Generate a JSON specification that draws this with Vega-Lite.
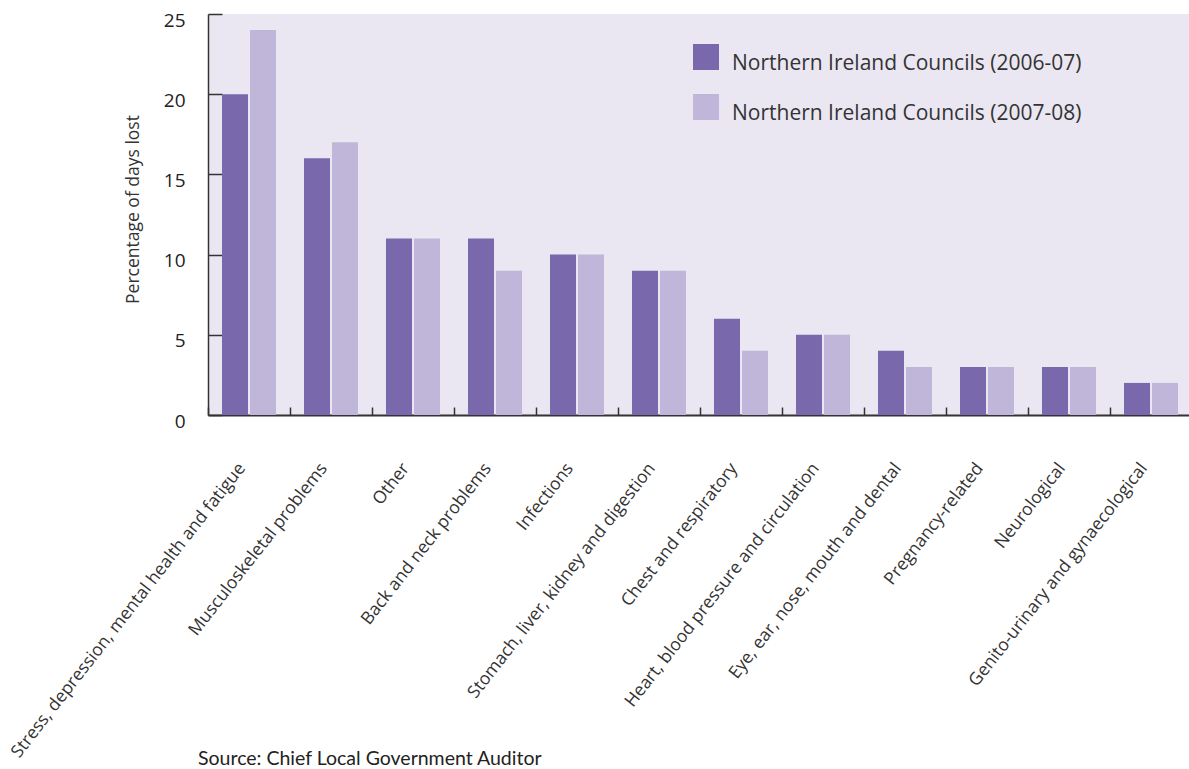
{
  "$schema": "https://vega.github.io/schema/vega-lite/v6.json",
  "autosize": {"type": "none"},
  "padding": {"left": 208, "top": 14, "right": 0, "bottom": 354},
  "width": 984,
  "height": 401,
  "background": "#ffffff",
  "title": {
    "text": "Source: Chief Local Government Auditor",
    "orient": "bottom",
    "anchor": "start",
    "frame": "group",
    "dx": -10,
    "offset": -10,
    "font": "Lato",
    "fontSize": 19.5,
    "fontWeight": "normal",
    "color": "#222222"
  },
  "data": {
    "values": [
      {"category": "Stress, depression, mental health and fatigue", "period": "Northern Ireland Councils (2006-07)", "value": 20},
      {"category": "Stress, depression, mental health and fatigue", "period": "Northern Ireland Councils (2007-08)", "value": 24},
      {"category": "Musculoskeletal problems", "period": "Northern Ireland Councils (2006-07)", "value": 16},
      {"category": "Musculoskeletal problems", "period": "Northern Ireland Councils (2007-08)", "value": 17},
      {"category": "Other", "period": "Northern Ireland Councils (2006-07)", "value": 11},
      {"category": "Other", "period": "Northern Ireland Councils (2007-08)", "value": 11},
      {"category": "Back and neck problems", "period": "Northern Ireland Councils (2006-07)", "value": 11},
      {"category": "Back and neck problems", "period": "Northern Ireland Councils (2007-08)", "value": 9},
      {"category": "Infections", "period": "Northern Ireland Councils (2006-07)", "value": 10},
      {"category": "Infections", "period": "Northern Ireland Councils (2007-08)", "value": 10},
      {"category": "Stomach, liver, kidney and digestion", "period": "Northern Ireland Councils (2006-07)", "value": 9},
      {"category": "Stomach, liver, kidney and digestion", "period": "Northern Ireland Councils (2007-08)", "value": 9},
      {"category": "Chest and respiratory", "period": "Northern Ireland Councils (2006-07)", "value": 6},
      {"category": "Chest and respiratory", "period": "Northern Ireland Councils (2007-08)", "value": 4},
      {"category": "Heart, blood pressure and circulation", "period": "Northern Ireland Councils (2006-07)", "value": 5},
      {"category": "Heart, blood pressure and circulation", "period": "Northern Ireland Councils (2007-08)", "value": 5},
      {"category": "Eye, ear, nose, mouth and dental", "period": "Northern Ireland Councils (2006-07)", "value": 4},
      {"category": "Eye, ear, nose, mouth and dental", "period": "Northern Ireland Councils (2007-08)", "value": 3},
      {"category": "Pregnancy-related", "period": "Northern Ireland Councils (2006-07)", "value": 3},
      {"category": "Pregnancy-related", "period": "Northern Ireland Councils (2007-08)", "value": 3},
      {"category": "Neurological", "period": "Northern Ireland Councils (2006-07)", "value": 3},
      {"category": "Neurological", "period": "Northern Ireland Councils (2007-08)", "value": 3},
      {"category": "Genito-urinary and gynaecological", "period": "Northern Ireland Councils (2006-07)", "value": 2},
      {"category": "Genito-urinary and gynaecological", "period": "Northern Ireland Councils (2007-08)", "value": 2}
    ]
  },
  "mark": {"type": "bar"},
  "encoding": {
    "x": {
      "field": "category",
      "type": "nominal",
      "sort": null,
      "scale": {"paddingInner": 0, "paddingOuter": 0},
      "axis": {
        "title": null,
        "labelAngle": -52,
        "labelAlign": "right",
        "labelBaseline": "middle",
        "labelFont": "Open Sans",
        "labelFontSize": 17.5,
        "labelColor": "#333333",
        "labelPadding": 58,
        "labelOffset": -7,
        "labelLimit": 450,
        "labelOverlap": false,
        "bandPosition": 0,
        "tickSize": -8,
        "tickColor": "#333333",
        "tickWidth": 1.5,
        "domainColor": "#333333",
        "domainWidth": 2,
        "grid": false
      }
    },
    "xOffset": {
      "field": "period",
      "type": "nominal",
      "scale": {"paddingInner": 0.0714, "paddingOuter": 0.5}
    },
    "y": {
      "field": "value",
      "type": "quantitative",
      "scale": {"domain": [0, 25], "nice": false},
      "axis": {
        "values": [0, 5, 10, 15, 20, 25],
        "title": "Percentage of days lost",
        "titleFont": "Open Sans",
        "titleFontSize": 17.5,
        "titleFontWeight": "normal",
        "titleColor": "#333333",
        "titlePadding": 21,
        "titleY": 195,
        "labelFont": "Open Sans",
        "labelFontSize": 19,
        "labelColor": "#222222",
        "labelOffset": 6,
        "labelPadding": 37,
        "tickSize": -14,
        "tickColor": "#333333",
        "tickWidth": 1.5,
        "domainColor": "#333333",
        "domainWidth": 1.5,
        "grid": false
      }
    },
    "color": {
      "field": "period",
      "type": "nominal",
      "scale": {"range": ["#7A68AD", "#C0B6DA"]},
      "legend": {
        "title": null,
        "orient": "none",
        "legendX": 485,
        "legendY": 36.5,
        "padding": 0,
        "symbolType": "M-1,-1.5L1,-1.5L1,0.5L-1,0.5Z",
        "symbolSize": 676,
        "symbolStrokeWidth": 0,
        "symbolOpacity": 1,
        "labelOffset": 13,
        "labelFont": "Open Sans",
        "labelFontSize": 21,
        "labelColor": "#333333",
        "labelLimit": 500,
        "rowPadding": 20
      }
    }
  },
  "config": {
    "view": {"fill": "#EAE7F3", "stroke": null}
  }
}
